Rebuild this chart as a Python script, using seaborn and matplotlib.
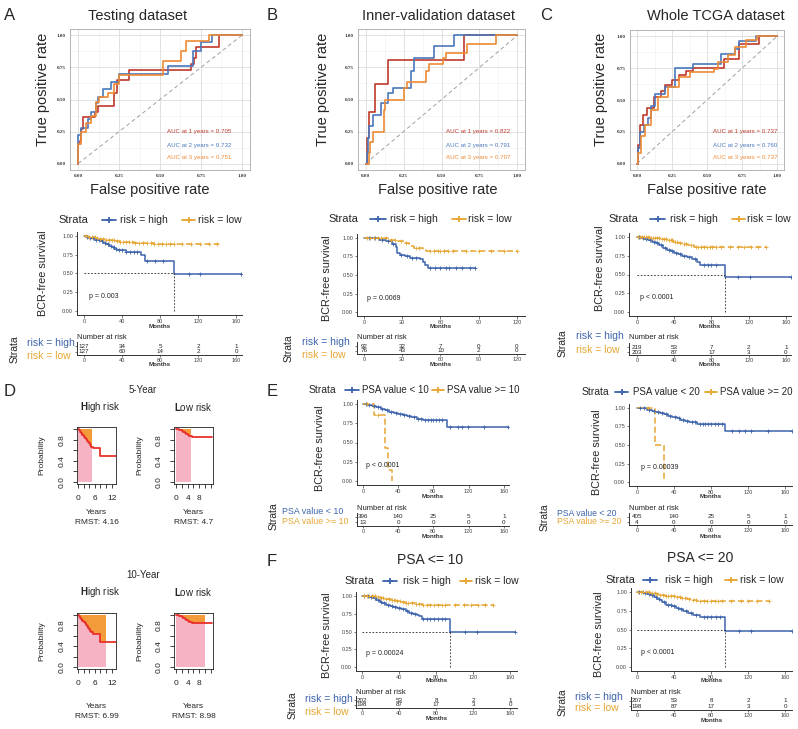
import numpy as np
import matplotlib
matplotlib.use("Agg")
import matplotlib.pyplot as plt
from matplotlib.lines import Line2D
import seaborn as sns

sns.set_style("white")
plt.rcParams['font.family'] = ['Liberation Sans', 'DejaVu Sans']
plt.rcParams['mathtext.fontset'] = 'custom'
plt.rcParams['mathtext.rm'] = 'Liberation Sans'
plt.rcParams['mathtext.bf'] = 'Liberation Sans:bold'

# ---------------- data ----------------
# ROC curves (fpr at jump, tpr after jump)
A_r1_fpr = [0, 0, 0.01, 0.02, 0.03, 0.10, 0.12, 0.22, 0.24, 0.31, 0.69, 0.71, 0.72, 0.86, 1.0]
A_r1_tpr = [0, 0.15, 0.18, 0.27, 0.36, 0.40, 0.45, 0.55, 0.65, 0.73, 0.78, 0.82, 0.91, 1.0, 1.0]
A_r2_fpr = [0, 0, 0.02, 0.06, 0.08, 0.11, 0.12, 0.15, 0.20, 0.25, 0.52, 0.55, 0.68, 0.70, 0.75, 0.82, 1.0]
A_r2_tpr = [0, 0.22, 0.28, 0.35, 0.40, 0.47, 0.52, 0.58, 0.64, 0.70, 0.70, 0.76, 0.76, 0.88, 0.95, 1.0, 1.0]
A_r3_fpr = [0, 0, 0.02, 0.05, 0.08, 0.11, 0.13, 0.18, 0.22, 0.25, 0.50, 0.52, 0.60, 0.63, 0.66, 0.80, 1.0]
A_r3_tpr = [0, 0.15, 0.25, 0.32, 0.37, 0.48, 0.52, 0.55, 0.62, 0.69, 0.69, 0.80, 0.80, 0.88, 0.96, 1.0, 1.0]

B_r1_fpr = [0, 0.01, 0.02, 0.06, 0.15, 0.65, 1.0]
B_r1_tpr = [0, 0.20, 0.40, 0.62, 0.81, 1.0, 1.0]
B_r2_fpr = [0, 0.01, 0.015, 0.02, 0.05, 0.10, 0.15, 0.18, 0.30, 0.32, 0.45, 0.58, 1.0]
B_r2_tpr = [0, 0.08, 0.20, 0.29, 0.38, 0.47, 0.55, 0.59, 0.72, 0.82, 0.92, 1.0, 1.0]
B_r3_fpr = [0, 0.02, 0.03, 0.05, 0.12, 0.13, 0.25, 0.27, 0.40, 0.42, 0.51, 0.53, 0.67, 0.86, 1.0]
B_r3_tpr = [0, 0.08, 0.17, 0.25, 0.42, 0.50, 0.59, 0.64, 0.72, 0.78, 0.82, 0.86, 0.93, 1.0, 1.0]

C_r1_fpr = [0, 0.01, 0.02, 0.04, 0.07, 0.12, 0.17, 0.20, 0.25, 0.30, 0.35, 0.40, 0.60, 0.62, 0.73, 0.87, 1.0]
C_r1_tpr = [0, 0.15, 0.30, 0.38, 0.44, 0.52, 0.57, 0.62, 0.66, 0.70, 0.73, 0.75, 0.75, 0.82, 0.94, 1.0, 1.0]
C_r2_fpr = [0, 0.01, 0.02, 0.05, 0.08, 0.10, 0.13, 0.20, 0.27, 0.40, 0.55, 0.60, 0.70, 0.73, 0.85, 1.0]
C_r2_tpr = [0, 0.12, 0.25, 0.30, 0.36, 0.45, 0.55, 0.60, 0.75, 0.78, 0.78, 0.86, 0.90, 0.96, 1.0, 1.0]
C_r3_fpr = [0, 0.01, 0.03, 0.06, 0.10, 0.15, 0.22, 0.30, 0.38, 0.55, 0.58, 0.65, 0.70, 0.78, 0.86, 1.0]
C_r3_tpr = [0, 0.08, 0.22, 0.30, 0.42, 0.52, 0.60, 0.68, 0.72, 0.74, 0.80, 0.85, 0.92, 0.97, 1.0, 1.0]

A_auc = ["AUC at 1 years = 0.705", "AUC at 2 years = 0.732", "AUC at 3 years = 0.751"]
B_auc = ["AUC at 1 years = 0.822", "AUC at 2 years = 0.791", "AUC at 3 years = 0.707"]
C_auc = ["AUC at 1 years = 0.737", "AUC at 2 years = 0.760", "AUC at 3 years = 0.737"]

# KM curves (months, survival after step), censor times
A_high_t = [0, 2, 5, 8, 11, 14, 17, 20, 23, 26, 29, 32, 35, 44, 55, 60, 64, 95, 165]
A_high_s = [1.0, 0.99, 0.975, 0.965, 0.95, 0.94, 0.925, 0.91, 0.89, 0.87, 0.85, 0.83, 0.81, 0.79, 0.78, 0.75, 0.66, 0.49, 0.49]
A_high_c = [3, 6, 9, 13, 16, 19, 22, 25, 28, 31, 34, 37, 40, 44, 48, 52, 56, 66, 75, 83, 110, 122, 165]
A_low_t = [0, 4, 8, 12, 17, 22, 27, 33, 38, 45, 52, 62, 73, 142]
A_low_s = [1.0, 0.99, 0.98, 0.97, 0.96, 0.95, 0.94, 0.93, 0.92, 0.915, 0.91, 0.90, 0.89, 0.89]
A_low_c = [2, 5, 8, 11, 14, 17, 20, 23, 26, 29, 32, 35, 38, 41, 44, 47, 50, 54, 58, 62, 66, 70, 74, 78, 82, 86, 90, 95, 103, 112, 122, 131, 140]
A_median = 95

B_high_t = [0, 6, 12, 17, 22, 25, 26, 28, 32, 36, 44, 46, 48, 50, 87]
B_high_s = [1.0, 0.99, 0.97, 0.95, 0.92, 0.88, 0.80, 0.77, 0.75, 0.73, 0.71, 0.67, 0.63, 0.59, 0.59]
B_high_c = [4, 9, 14, 19, 23, 29, 34, 38, 41, 52, 56, 60, 64, 67, 72, 77, 83, 87]
B_low_t = [0, 15, 19, 27, 31, 35, 37, 39, 46, 49, 120]
B_low_s = [1.0, 0.99, 0.97, 0.955, 0.93, 0.91, 0.89, 0.86, 0.84, 0.82, 0.82]
B_low_c = [2, 5, 8, 11, 13, 17, 21, 24, 29, 33, 41, 43, 52, 55, 58, 60, 63, 66, 70, 80, 90, 100, 110, 120]

C_high_t = [0, 4, 8, 12, 16, 20, 24, 28, 32, 36, 40, 44, 48, 54, 59, 64, 68, 95, 165]
C_high_s = [1.0, 0.99, 0.975, 0.955, 0.935, 0.915, 0.885, 0.855, 0.83, 0.81, 0.79, 0.77, 0.75, 0.73, 0.70, 0.665, 0.63, 0.47, 0.47]
C_high_c = [2, 6, 10, 14, 18, 22, 26, 30, 34, 38, 42, 46, 50, 56, 62, 72, 76, 80, 85, 109, 121, 165]
C_low_t = [0, 8, 14, 20, 25, 32, 39, 44, 48, 55, 61, 139]
C_low_s = [1.0, 0.995, 0.99, 0.98, 0.975, 0.955, 0.93, 0.92, 0.91, 0.89, 0.865, 0.865]
C_low_c = [1, 3, 5, 7, 10, 12, 15, 17, 19, 22, 24, 27, 29, 31, 34, 36, 38, 41, 43, 46, 50, 53, 58, 63, 66, 69, 72, 75, 78, 81, 85, 90, 100, 108, 115, 122, 130, 139]
C_median = 95

E1_lo_t = [0, 5, 10, 15, 20, 25, 30, 35, 40, 45, 50, 55, 61, 68, 95, 165]
E1_lo_s = [1.0, 0.99, 0.97, 0.955, 0.94, 0.915, 0.90, 0.885, 0.87, 0.855, 0.84, 0.83, 0.805, 0.785, 0.70, 0.70]
E1_lo_c = [3, 7, 12, 17, 22, 27, 32, 37, 42, 47, 52, 58, 63, 66, 71, 74, 77, 80, 83, 86, 90, 99, 108, 112, 119, 138, 165]
E1_hi_t = [0, 12, 25, 28, 33]
E1_hi_s = [1.0, 0.86, 0.43, 0.14, 0.0]
E1_hi_c = [4, 17]

E2_lo_t = [0, 5, 11, 16, 20, 25, 29, 34, 38, 43, 47, 52, 56, 65, 95, 167]
E2_lo_s = [1.0, 0.99, 0.975, 0.96, 0.945, 0.925, 0.91, 0.895, 0.88, 0.86, 0.84, 0.825, 0.81, 0.775, 0.69, 0.69]
E2_lo_c = [3, 8, 13, 18, 23, 27, 31, 36, 41, 45, 50, 54, 60, 63, 68, 71, 74, 77, 80, 84, 88, 92, 103, 110, 117, 123, 142, 167]
E2_hi_t = [0, 20, 29]
E2_hi_s = [1.0, 0.5, 0.0]
E2_hi_c = [12]

F1_high_t = [0, 4, 8, 12, 15, 19, 22, 26, 30, 33, 38, 42, 47, 51, 55, 59, 62, 65, 95, 165]
F1_high_s = [1.0, 0.99, 0.977, 0.96, 0.94, 0.915, 0.89, 0.875, 0.86, 0.84, 0.825, 0.81, 0.78, 0.76, 0.745, 0.725, 0.71, 0.67, 0.49, 0.49]
F1_high_c = [2, 6, 10, 14, 17, 21, 24, 28, 32, 36, 40, 44, 49, 53, 57, 66, 70, 74, 78, 82, 86, 90, 111, 124, 165]
F1_low_t = [0, 8, 15, 20, 26, 31, 37, 42, 47, 52, 58, 65, 142]
F1_low_s = [1.0, 0.995, 0.985, 0.97, 0.955, 0.945, 0.93, 0.915, 0.90, 0.89, 0.885, 0.87, 0.87]
F1_low_c = [2, 5, 8, 11, 14, 17, 20, 23, 26, 29, 32, 35, 38, 41, 44, 47, 50, 54, 58, 62, 66, 70, 74, 78, 82, 86, 90, 100, 110, 118, 125, 133, 142]
F1_median = 95

F2_high_t = [0, 4, 7, 11, 14, 18, 22, 25, 27, 31, 35, 38, 42, 45, 50, 55, 61, 68, 95, 167]
F2_high_s = [1.0, 0.993, 0.985, 0.97, 0.955, 0.935, 0.91, 0.885, 0.86, 0.83, 0.82, 0.81, 0.79, 0.77, 0.74, 0.72, 0.695, 0.665, 0.48, 0.48]
F2_high_c = [2, 6, 9, 13, 16, 20, 24, 29, 33, 37, 40, 44, 48, 53, 58, 64, 72, 76, 80, 85, 90, 110, 123, 167]
F2_low_t = [0, 8, 14, 20, 25, 30, 36, 42, 47, 54, 60, 65, 143]
F2_low_s = [1.0, 0.995, 0.985, 0.975, 0.96, 0.95, 0.94, 0.93, 0.92, 0.90, 0.885, 0.875, 0.875]
F2_low_c = [1, 4, 7, 10, 13, 16, 19, 22, 25, 28, 31, 34, 37, 40, 43, 46, 49, 52, 56, 60, 64, 68, 72, 76, 80, 84, 88, 92, 102, 112, 120, 130, 143]
F2_median = 95

# numbers at risk
A_risk_high = [127, 34, 5, 2, 1]
A_risk_low = [127, 60, 14, 2, 0]
B_risk_high = [92, 32, 7, 0, 0]
B_risk_low = [76, 43, 10, 2, 0]
C_risk_high = [219, 53, 7, 2, 1]
C_risk_low = [203, 87, 17, 3, 0]
E1_risk_lo = [396, 140, 25, 5, 1]
E1_risk_hi = [13, 0, 0, 0, 0]
E2_risk_lo = [405, 140, 25, 5, 1]
E2_risk_hi = [4, 0, 0, 0, 0]
F1_risk_high = [202, 53, 8, 2, 1]
F1_risk_low = [198, 87, 17, 3, 0]
F2_risk_high = [207, 53, 8, 2, 1]
F2_risk_low = [198, 87, 17, 3, 0]

months_160 = [0, 40, 80, 120, 160]
months_120 = [0, 30, 60, 90, 120]

# RMST curves (years)
D_high_t = [0, 0.4, 0.8, 1.2, 1.6, 2.0, 2.4, 2.8, 3.2, 3.6, 4.0, 4.4, 4.8, 5.3, 7.9, 13.5]
D_high_s = [1.0, 0.98, 0.95, 0.92, 0.89, 0.86, 0.84, 0.81, 0.78, 0.76, 0.73, 0.70, 0.67, 0.64, 0.49, 0.49]
D_low_t = [0, 0.5, 1, 1.5, 2, 2.5, 3, 3.5, 4, 4.5, 5.4, 12.4]
D_low_s = [1.0, 0.995, 0.985, 0.975, 0.96, 0.94, 0.92, 0.905, 0.89, 0.875, 0.855, 0.855]
rmst_labels = ["RMST: 4.16", "RMST: 4.7", "RMST: 6.99", "RMST: 8.98"]

BLUE = "#3D64AC"
GOLD = "#E6A633"
ROC_COLS = ["#C0392B", "#4A78BD", "#EE8A35"]

W, H = 798, 729
fig = plt.figure(figsize=(W / 100, H / 100), dpi=100)


def add_ax(x0, y0, x1, y1):
    return fig.add_axes([x0 / W, 1 - y1 / H, (x1 - x0) / W, (y1 - y0) / H])


def ftext(x, y, s, **kw):
    kw.setdefault('ha', 'center')
    kw.setdefault('va', 'center')
    fig.text(x / W, 1 - y / H, s, **kw)


def surv_at(t, s, q):
    idx = np.searchsorted(t, q, side='right') - 1
    return np.asarray(s)[np.clip(idx, 0, len(s) - 1)]


# ---------------- ROC panels ----------------
def roc_panel(frame, curves, aucs, auc_x, title, title_x, ylab_x, xlab_x):
    ax = add_ax(*frame)
    ax.set_xlim(-0.05, 1.05)
    ax.set_ylim(-0.05, 1.05)
    ticks = [0, 0.25, 0.5, 0.75, 1.0]
    ax.set_xticks(ticks)
    ax.set_yticks(ticks)
    ax.set_xticks([0.125, 0.375, 0.625, 0.875], minor=True)
    ax.set_yticks([0.125, 0.375, 0.625, 0.875], minor=True)
    ax.set_xticklabels([f"{t:.2f}" for t in ticks])
    ax.set_yticklabels([f"{t:.2f}" for t in ticks])
    ax.grid(which='major', color='#DCDCDC', lw=0.6)
    ax.grid(which='minor', color='#EEEEEE', lw=0.4)
    ax.tick_params(which='major', labelsize=3.6, length=1.5, width=0.4, pad=1.5, colors='#333333')
    ax.tick_params(which='minor', length=0)
    for lbl in ax.get_xticklabels() + ax.get_yticklabels():
        lbl.set_fontfamily('Liberation Serif')
        lbl.set_fontweight('bold')
    for sp in ax.spines.values():
        sp.set_color('#AAAAAA')
        sp.set_linewidth(0.6)
    ax.plot([0, 1], [0, 1], ls=(0, (4, 3)), color='#A0A0A0', lw=0.7)
    for (fpr, tpr), col in zip(curves, ROC_COLS):
        sns.lineplot(x=fpr, y=tpr, drawstyle='steps-post', estimator=None, sort=False,
                     color=col, lw=1.2, ax=ax)
    ax.set_xlabel('')
    ax.set_ylabel('')
    for txt, col, yy in zip(aucs, ROC_COLS, [132, 146, 157]):
        ftext(auc_x, yy, txt, ha='left', fontsize=4.4, color=col)
    ftext(title_x, 16, title, fontsize=10.5)
    ftext(ylab_x, 89, "True positive rate", fontsize=10.5, rotation=90)
    ftext(xlab_x, 190, "False positive rate", fontsize=10.5)


roc_panel((70, 29, 250, 170), [(A_r1_fpr, A_r1_tpr), (A_r2_fpr, A_r2_tpr), (A_r3_fpr, A_r3_tpr)],
          A_auc, 167, "Testing dataset", 138, 43, 150)
roc_panel((358, 29, 525, 170), [(B_r1_fpr, B_r1_tpr), (B_r2_fpr, B_r2_tpr), (B_r3_fpr, B_r3_tpr)],
          B_auc, 446, "Inner-validation dataset", 438, 323, 438)
roc_panel((630, 30, 784, 170), [(C_r1_fpr, C_r1_tpr), (C_r2_fpr, C_r2_tpr), (C_r3_fpr, C_r3_tpr)],
          C_auc, 713, "Whole TCGA dataset", 716, 601, 707)


# ---------------- KM panels ----------------
def km_legend(y, strata_x, items, size=7.5):
    ftext(strata_x, y, "Strata", ha='left', fontsize=size + 0.5)
    for x0, x1, lab_x, label, col in items:
        fig.add_artist(Line2D([x0 / W, x1 / W], [1 - y / H] * 2, color=col, lw=1.3))
        fig.add_artist(Line2D([(x0 + x1) / 2 / W], [1 - y / H], marker='+', color=col,
                              ms=5, mew=1.3))
        ftext(lab_x, y, label, ha='left', fontsize=size)


def km_panel(frame, xlim, xticks, curves, median, pval, pval_x, pval_y, ylab_x, ylab_y, months_y):
    ax = add_ax(*frame)
    for t, s, c, col, ls in curves:
        sns.lineplot(x=t, y=s, drawstyle='steps-post', estimator=None, sort=False,
                     color=col, lw=1.1, linestyle=ls, ax=ax)
        sns.scatterplot(x=c, y=surv_at(t, s, c), marker='+', s=12, color=col,
                        linewidth=0.6, ax=ax, zorder=3)
    if median is not None:
        ax.hlines(0.5, 0, median, colors='#222222', linestyles=(0, (2, 2)), lw=0.6)
        ax.vlines(median, 0, 0.5, colors='#222222', linestyles=(0, (2, 2)), lw=0.6)
    ax.set_xlim(*xlim)
    ax.set_ylim(-0.05, 1.05)
    ax.set_xticks(xticks)
    ax.set_yticks([0, 0.25, 0.5, 0.75, 1.0])
    ax.set_yticklabels(["0.00", "0.25", "0.50", "0.75", "1.00"])
    ax.set_xlabel('')
    ax.set_ylabel('')
    ax.tick_params(labelsize=4, length=1.8, width=0.5, pad=1, colors='#444444', left=True, bottom=True)
    for side in ['top', 'right']:
        ax.spines[side].set_visible(False)
    for side in ['left', 'bottom']:
        ax.spines[side].set_color('#333333')
        ax.spines[side].set_linewidth(0.7)
    ax.text(pval_x, pval_y, pval, fontsize=5, ha='left', va='center', color='#222222')
    cx = (frame[0] + frame[2]) / 2
    ftext(cx, months_y, "Months", fontsize=4.5, fontweight='bold', color='#333333')
    ftext(ylab_x, ylab_y, "BCR-free survival", fontsize=7.8, rotation=90)


def risk_table(x0, x1, xlim, xticks, rows_y, axis_y, n_high, n_low, num_y, months_y,
               labels, lab_x, lab_ys, strata_x, lab_size=7.5):
    top = rows_y[0] - 4
    ax = add_ax(x0, top, x1, axis_y)
    ax.set_xlim(*xlim)
    ax.set_ylim(0, 1)
    h = axis_y - top
    fr = [(axis_y - py) / h for py in rows_y]
    for nums, yy in zip([n_high, n_low], fr):
        for t, n in zip(xticks, nums):
            ax.text(t, yy, str(n), ha='center', va='center', fontsize=4.5, color='#222222')
    ax.set_xticks(xticks)
    ax.set_yticks(fr)
    ax.set_yticklabels([])
    ax.tick_params(labelsize=4, length=1.5, width=0.5, pad=0.8, colors='#444444', left=True, bottom=True)
    for side in ['top', 'right']:
        ax.spines[side].set_visible(False)
    for side in ['left', 'bottom']:
        ax.spines[side].set_color('#333333')
        ax.spines[side].set_linewidth(0.7)
    ftext(x0, num_y, "Number at risk", ha='left', fontsize=5.5, color='#222222')
    ftext((x0 + x1) / 2, months_y, "Months", fontsize=4.5, fontweight='bold', color='#333333')
    for lab, col, yy in zip(labels, [BLUE, GOLD], lab_ys):
        ftext(lab_x, yy, lab, ha='left', fontsize=lab_size, color=col)
    ftext(strata_x, (lab_ys[0] + lab_ys[1]) / 2, "Strata", fontsize=7.5, rotation=90)


dash = (0, (4, 2))
risk_labels = ["risk = high", "risk = low"]

# A
km_legend(220, 58, [(102, 116, 120, "risk = high", BLUE), (182, 195, 198, "risk = low", GOLD)])
km_panel((77, 232, 242, 315), (-7.4, 166), months_160,
         [(A_high_t, A_high_s, A_high_c, BLUE, '-'), (A_low_t, A_low_s, A_low_c, GOLD, dash)],
         A_median, "p = 0.003", 5, 0.19, 43, 273, 326)
risk_table(77, 242, (-7.4, 166), months_160, [346.5, 351.5], 355, A_risk_high, A_risk_low, 337, 365,
           risk_labels, 27, [343, 356], 15)

# B
km_legend(219, 328, [(370, 386, 390, "risk = high", BLUE), (452, 466, 468, "risk = low", GOLD)])
km_panel((357, 234, 525, 316), (-5.5, 126.3), months_120,
         [(B_high_t, B_high_s, B_high_c, BLUE, '-'), (B_low_t, B_low_s, B_low_c, GOLD, dash)],
         None, "p = 0.0069", 2, 0.19, 327, 278, 326)
risk_table(357, 525, (-5.5, 126.3), months_120, [346, 351], 354, B_risk_high, B_risk_low, 337, 365,
           risk_labels, 302, [342, 355], 289)

# C
km_legend(219, 608, [(650, 665, 670, "risk = high", BLUE), (732, 745, 747, "risk = low", GOLD)])
km_panel((629, 233, 791, 316), (-8.6, 165.4), months_160,
         [(C_high_t, C_high_s, C_high_c, BLUE, '-'), (C_low_t, C_low_s, C_low_c, GOLD, dash)],
         C_median, "p < 0.0001", 3, 0.2, 600, 268, 326)
risk_table(629, 791, (-8.6, 165.4), months_160, [347, 352], 354.5, C_risk_high, C_risk_low, 337, 365,
           risk_labels, 576, [336, 350], 563)

# E left
km_legend(390, 309, [(345, 359, 362, "PSA value < 10", BLUE), (432, 444, 447, "PSA value >= 10", GOLD)], size=7)
km_panel((357, 400, 509, 485), (-6.8, 166), months_160,
         [(E1_lo_t, E1_lo_s, E1_lo_c, BLUE, '-'), (E1_hi_t, E1_hi_s, E1_hi_c, GOLD, dash)],
         None, "p < 0.0001", 3, 0.2, 320, 448, 496)
risk_table(357, 509, (-6.8, 166), months_160, [517, 522], 526, E1_risk_lo, E1_risk_hi, 508, 537,
           ["PSA value < 10", "PSA value >= 10"], 282, [511, 522], 274, lab_size=6.4)

# E right
km_legend(392, 582, [(615, 628, 633, "PSA value < 20", BLUE), (705, 717, 720, "PSA value >= 20", GOLD)], size=7)
km_panel((629, 404, 792, 486), (-8.6, 167.5), months_160,
         [(E2_lo_t, E2_lo_s, E2_lo_c, BLUE, '-'), (E2_hi_t, E2_hi_s, E2_hi_c, GOLD, dash)],
         None, "p = 0.00039", 4, 0.2, 597, 452, 496)
risk_table(629, 792, (-8.6, 167.5), months_160, [517, 522], 525, E2_risk_lo, E2_risk_hi, 508, 536,
           ["PSA value < 20", "PSA value >= 20"], 557, [513, 522], 545, lab_size=6.2)

# F left
ftext(430, 560, "PSA <= 10", fontsize=10)
km_legend(581, 344, [(383, 397, 403, "risk = high", BLUE), (460, 472, 475, "risk = low", GOLD)])
km_panel((356, 592, 517, 671), (-6.5, 167.5), months_160,
         [(F1_high_t, F1_high_s, F1_high_c, BLUE, '-'), (F1_low_t, F1_low_s, F1_low_c, GOLD, dash)],
         F1_median, "p = 0.00024", 4, 0.2, 327, 635, 681)
risk_table(356, 517, (-6.5, 167.5), months_160, [700, 705], 708, F1_risk_high, F1_risk_low, 692, 718,
           risk_labels, 305, [699, 712], 293)

# F right
ftext(700, 558, "PSA <= 20", fontsize=10)
km_legend(580, 605, [(643, 657, 665, "risk = high", BLUE), (725, 737, 740, "risk = low", GOLD)])
km_panel((631, 588, 792, 671), (-6.5, 167.5), months_160,
         [(F2_high_t, F2_high_s, F2_high_c, BLUE, '-'), (F2_low_t, F2_low_s, F2_low_c, GOLD, dash)],
         F2_median, "p < 0.0001", 4, 0.2, 599, 634, 681)
risk_table(631, 792, (-6.5, 167.5), months_160, [701, 706], 710, F2_risk_high, F2_risk_low, 693, 721,
           risk_labels, 575, [697, 708], 563)


# ---------------- D: RMST panels ----------------
PINK = "#F6B3C3"
ORANGE = "#F39A3A"
RED = "#E8302A"


def rmst_panel(frame, t, s, tau, xlim, xlabels, head, head_x, head_y, years_y, rmst, prob_x):
    ax = add_ax(*frame)
    ts = [v for v in t if v < tau] + [tau]
    ss = surv_at(t, s, ts)
    ax.fill_between(ts, 0, ss, step='post', color=PINK, lw=0)
    ax.fill_between(ts, ss, 1, step='post', color=ORANGE, lw=0)
    sns.lineplot(x=t, y=s, drawstyle='steps-post', estimator=None, sort=False, color=RED, lw=1.3, ax=ax)
    ax.set_xlim(*xlim)
    ax.set_ylim(-0.04, 1.04)
    ax.set_xticks(range(0, 13, 2))
    ax.set_xticklabels([str(v) if v in xlabels else '' for v in range(0, 13, 2)])
    ax.set_yticks([0, 0.2, 0.4, 0.6, 0.8, 1.0])
    ax.set_yticklabels(['0.0', '', '0.4', '', '0.8', ''], rotation=90, va='center')
    ax.set_xlabel('')
    ax.set_ylabel('')
    ax.tick_params(labelsize=6, length=3, width=0.6, pad=5, colors='#222222', left=True, bottom=True)
    for sp in ax.spines.values():
        sp.set_color('#222222')
        sp.set_linewidth(0.6)
    cx = (frame[0] + frame[2]) / 2
    ftext(head_x, head_y, head, fontsize=7)
    ftext(cx, years_y, "Years", fontsize=6)
    ftext(cx, years_y + 10, rmst, fontsize=6)
    ftext(prob_x, (frame[1] + frame[3]) / 2, "Probability", fontsize=6, rotation=90)


ftext(143, 390, "5-Year", fontsize=7)
ftext(143, 575, "10-Year", fontsize=7)
rmst_panel((77, 427, 116, 484), D_high_t, D_high_s, 5, (-0.3, 13.5), [0, 6, 12],
           r"$\mathbf{H}$igh risk", 100, 407, 512, rmst_labels[0], 42)
rmst_panel((174, 427, 213, 484), D_low_t, D_low_s, 5, (-0.7, 12.7), [0, 4, 8],
           r"$\mathbf{L}$ow risk", 193, 407, 512, rmst_labels[1], 140)
rmst_panel((77, 613, 116, 669), D_high_t, D_high_s, 10, (-0.3, 13.5), [0, 6, 12],
           r"$\mathbf{H}$igh risk", 100, 592, 707, rmst_labels[2], 42)
rmst_panel((174, 613, 213, 669), D_low_t, D_low_s, 10, (-0.7, 12.7), [0, 4, 8],
           r"$\mathbf{L}$ow risk", 193, 592, 707, rmst_labels[3], 140)

# panel letters
for letter, lx, ly in [("A", 10, 15), ("B", 272, 15), ("C", 546, 15),
                       ("D", 10, 392), ("E", 272, 392), ("F", 272, 562)]:
    ftext(lx, ly, letter, fontsize=12)

fig.savefig("out.png", dpi=100)
